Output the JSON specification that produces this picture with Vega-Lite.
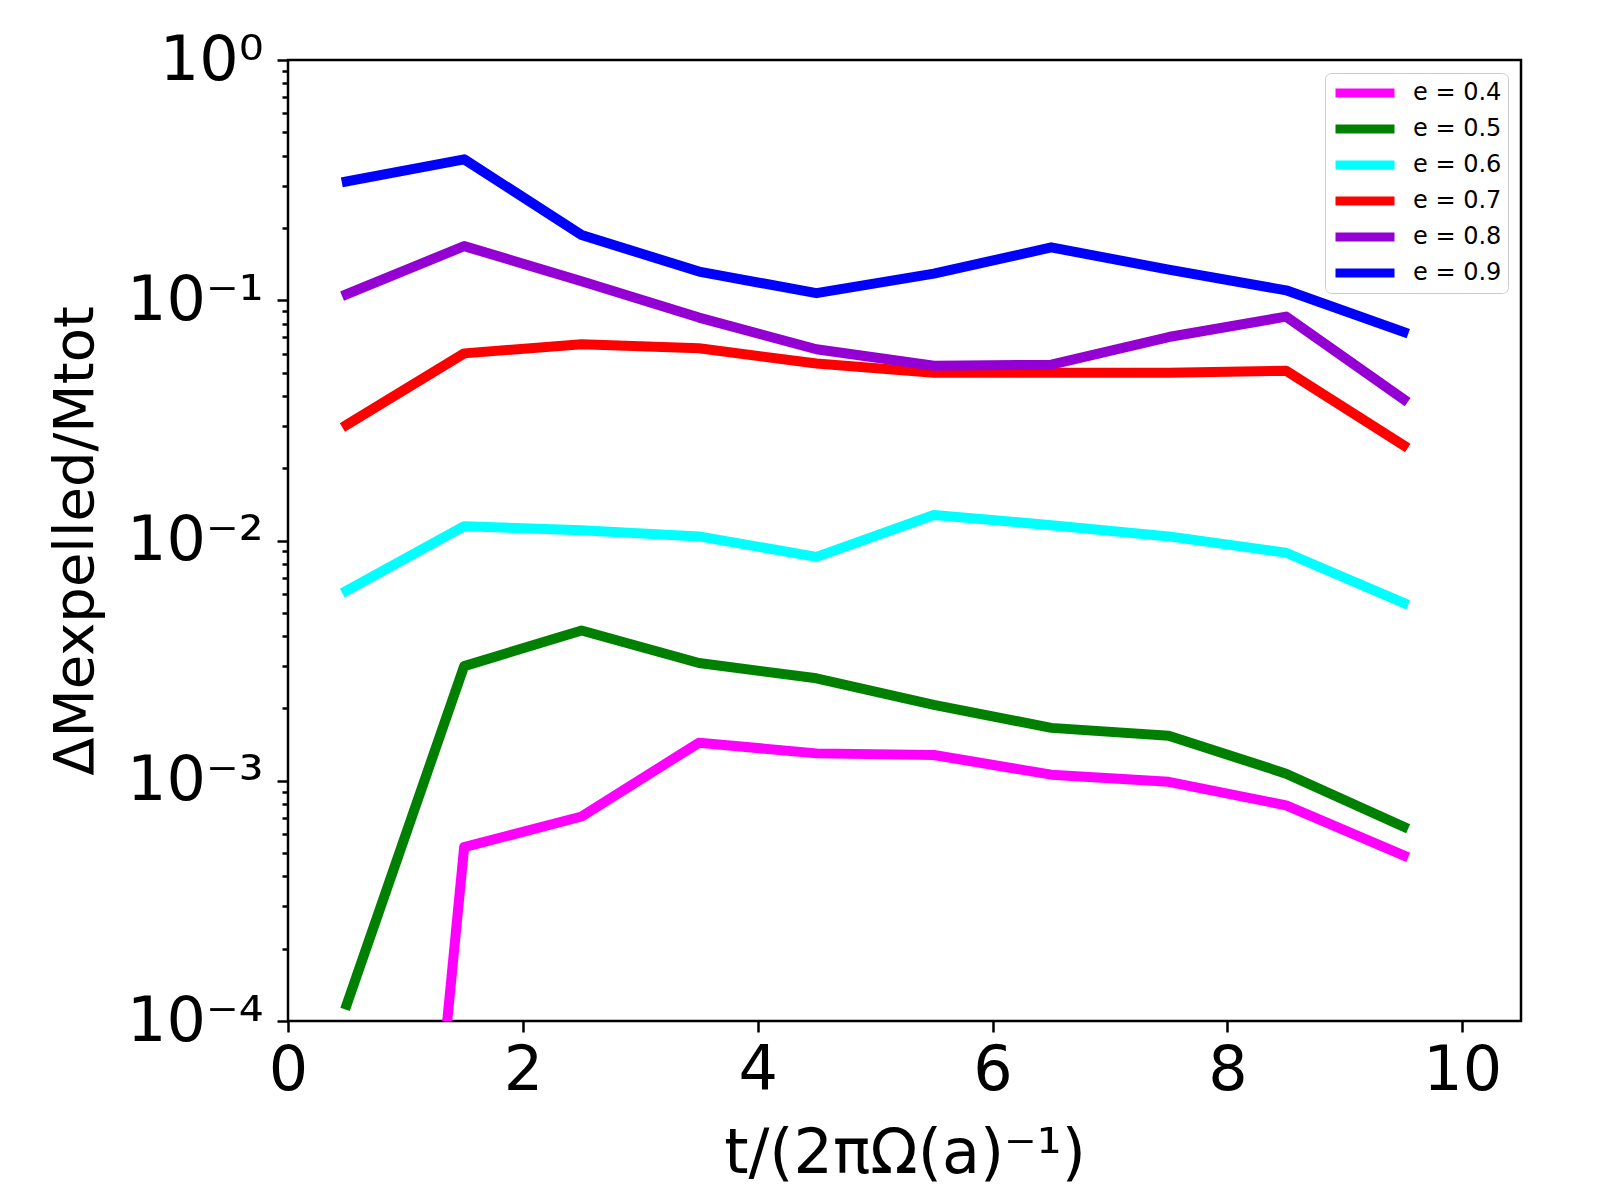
{
  "$schema": "https://vega.github.io/schema/vega-lite/v6.json",
  "autosize": "none",
  "width": 1233,
  "height": 961,
  "padding": {"left": 288, "top": 60, "right": 79, "bottom": 179},
  "background": "white",
  "config": {
    "font": "DejaVu Sans",
    "view": {"stroke": "black", "strokeWidth": 2.5}
  },
  "data": {
    "values": [
      {"t": 0.5, "e": "e = 0.4", "v": 5e-9},
      {"t": 1.5, "e": "e = 0.4", "v": 0.000529},
      {"t": 2.5, "e": "e = 0.4", "v": 0.00071},
      {"t": 3.5, "e": "e = 0.4", "v": 0.00144},
      {"t": 4.5, "e": "e = 0.4", "v": 0.0013},
      {"t": 5.5, "e": "e = 0.4", "v": 0.00128},
      {"t": 6.5, "e": "e = 0.4", "v": 0.00106},
      {"t": 7.5, "e": "e = 0.4", "v": 0.00099},
      {"t": 8.5, "e": "e = 0.4", "v": 0.00079},
      {"t": 9.5, "e": "e = 0.4", "v": 0.000489},
      {"t": 0.5, "e": "e = 0.5", "v": 0.000117},
      {"t": 1.5, "e": "e = 0.5", "v": 0.0030},
      {"t": 2.5, "e": "e = 0.5", "v": 0.00422},
      {"t": 3.5, "e": "e = 0.5", "v": 0.00309},
      {"t": 4.5, "e": "e = 0.5", "v": 0.00267},
      {"t": 5.5, "e": "e = 0.5", "v": 0.00207},
      {"t": 6.5, "e": "e = 0.5", "v": 0.00166},
      {"t": 7.5, "e": "e = 0.5", "v": 0.00154},
      {"t": 8.5, "e": "e = 0.5", "v": 0.00107},
      {"t": 9.5, "e": "e = 0.5", "v": 0.000644},
      {"t": 0.5, "e": "e = 0.6", "v": 0.00618},
      {"t": 1.5, "e": "e = 0.6", "v": 0.01147},
      {"t": 2.5, "e": "e = 0.6", "v": 0.01103},
      {"t": 3.5, "e": "e = 0.6", "v": 0.0104},
      {"t": 4.5, "e": "e = 0.6", "v": 0.00855},
      {"t": 5.5, "e": "e = 0.6", "v": 0.01277},
      {"t": 6.5, "e": "e = 0.6", "v": 0.01158},
      {"t": 7.5, "e": "e = 0.6", "v": 0.0104},
      {"t": 8.5, "e": "e = 0.6", "v": 0.00889},
      {"t": 9.5, "e": "e = 0.6", "v": 0.0055},
      {"t": 0.5, "e": "e = 0.7", "v": 0.0303},
      {"t": 1.5, "e": "e = 0.7", "v": 0.0601},
      {"t": 2.5, "e": "e = 0.7", "v": 0.0656},
      {"t": 3.5, "e": "e = 0.7", "v": 0.0631},
      {"t": 4.5, "e": "e = 0.7", "v": 0.0545},
      {"t": 5.5, "e": "e = 0.7", "v": 0.0499},
      {"t": 6.5, "e": "e = 0.7", "v": 0.0499},
      {"t": 7.5, "e": "e = 0.7", "v": 0.0499},
      {"t": 8.5, "e": "e = 0.7", "v": 0.0509},
      {"t": 9.5, "e": "e = 0.7", "v": 0.0249},
      {"t": 0.5, "e": "e = 0.8", "v": 0.106},
      {"t": 1.5, "e": "e = 0.8", "v": 0.168},
      {"t": 2.5, "e": "e = 0.8", "v": 0.12},
      {"t": 3.5, "e": "e = 0.8", "v": 0.0847},
      {"t": 4.5, "e": "e = 0.8", "v": 0.0625},
      {"t": 5.5, "e": "e = 0.8", "v": 0.0534},
      {"t": 6.5, "e": "e = 0.8", "v": 0.0539},
      {"t": 7.5, "e": "e = 0.8", "v": 0.0703},
      {"t": 8.5, "e": "e = 0.8", "v": 0.0855},
      {"t": 9.5, "e": "e = 0.8", "v": 0.0387},
      {"t": 0.5, "e": "e = 0.9", "v": 0.312},
      {"t": 1.5, "e": "e = 0.9", "v": 0.386},
      {"t": 2.5, "e": "e = 0.9", "v": 0.187},
      {"t": 3.5, "e": "e = 0.9", "v": 0.1316},
      {"t": 4.5, "e": "e = 0.9", "v": 0.107},
      {"t": 5.5, "e": "e = 0.9", "v": 0.129},
      {"t": 6.5, "e": "e = 0.9", "v": 0.166},
      {"t": 7.5, "e": "e = 0.9", "v": 0.134},
      {"t": 8.5, "e": "e = 0.9", "v": 0.11},
      {"t": 9.5, "e": "e = 0.9", "v": 0.0738}
    ]
  },
  "mark": {"type": "line", "clip": true, "strokeWidth": 10, "strokeCap": "square", "strokeJoin": "round"},
  "encoding": {
    "x": {
      "field": "t",
      "type": "quantitative",
      "scale": {"domain": [0, 10.5], "nice": false, "zero": false},
      "axis": {
        "values": [0, 2, 4, 6, 8, 10],
        "grid": false,
        "domain": false,
        "tickColor": "black",
        "tickWidth": 2.5,
        "tickSize": 11,
        "labelFontSize": 62,
        "labelColor": "black",
        "labelPadding": 8,
        "labelFlush": false,
        "title": "t/(2πΩ(a)⁻¹)",
        "titleFontSize": 62,
        "titleFontWeight": "normal",
        "titleColor": "black",
        "titlePadding": 22
      }
    },
    "y": {
      "field": "v",
      "type": "quantitative",
      "scale": {"type": "log", "domain": [0.0001, 1], "nice": false},
      "axis": {
        "values": [0.0001, 0.0002, 0.0003, 0.0004, 0.0005, 0.0006, 0.0007, 0.0008, 0.0009,
                   0.001, 0.002, 0.003, 0.004, 0.005, 0.006, 0.007, 0.008, 0.009,
                   0.01, 0.02, 0.03, 0.04, 0.05, 0.06, 0.07, 0.08, 0.09,
                   0.1, 0.2, 0.3, 0.4, 0.5, 0.6, 0.7, 0.8, 0.9, 1],
        "grid": false,
        "domain": false,
        "tickColor": "black",
        "tickWidth": 2.5,
        "tickSize": {"condition": {"test": "abs(log(datum.value)/LN10 - round(log(datum.value)/LN10)) < 0.001", "value": 11}, "value": 6},
        "labelExpr": "abs(log(datum.value)/LN10 - round(log(datum.value)/LN10)) > 0.001 ? '' : round(log(datum.value)/LN10) == 0 ? '10⁰' : round(log(datum.value)/LN10) == -1 ? '10⁻¹' : round(log(datum.value)/LN10) == -2 ? '10⁻²' : round(log(datum.value)/LN10) == -3 ? '10⁻³' : '10⁻⁴'",
        "labelOverlap": false,
        "labelFontSize": 62,
        "labelColor": "black",
        "labelPadding": 14,
        "labelFlush": false,
        "title": "ΔMexpelled/Mtot",
        "titleFontSize": 56,
        "titleFontWeight": "normal",
        "titleColor": "black",
        "titlePadding": 22
      }
    },
    "color": {
      "field": "e",
      "type": "nominal",
      "scale": {
        "domain": ["e = 0.4", "e = 0.5", "e = 0.6", "e = 0.7", "e = 0.8", "e = 0.9"],
        "range": ["#ff00ff", "#008000", "#00ffff", "#ff0000", "#9400d3", "#0000ff"]
      },
      "legend": {
        "title": null,
        "orient": "top-right",
        "offset": 13,
        "padding": 6,
        "fillColor": "white",
        "strokeColor": "#cccccc",
        "cornerRadius": 6,
        "symbolType": "stroke",
        "symbolSize": 3481,
        "symbolStrokeWidth": 9,
        "clipHeight": 28,
        "rowPadding": 8,
        "labelFontSize": 24,
        "labelColor": "black",
        "labelOffset": 14
      }
    }
  }
}
